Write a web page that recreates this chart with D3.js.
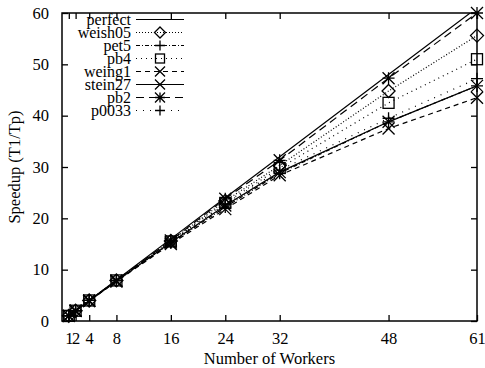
<!DOCTYPE html>
<html>
<head>
<meta charset="utf-8">
<script src="https://cdn.jsdelivr.net/npm/d3@7"></script>
<style>
body { margin: 0; background: #fff; }
svg text { font-family: "Liberation Serif", "DejaVu Serif", serif; font-size: 16.5px; fill: #000; }
svg .legend text { font-size: 16px; }
</style>
</head>
<body>
<div id="chart"></div>
<script>
var workers = [1, 2, 4, 8, 16, 24, 32, 48, 61];
var xTicks = [1, 2, 4, 8, 16, 24, 32, 48, 61];
var yTicks = [0, 10, 20, 30, 40, 50, 60];

var perfect = [1, 2, 4, 8, 16, 24, 32, 48, 61];
var weish05 = [1, 2, 4, 7.9, 15.6, 23.4, 30.3, 44.8, 55.6];
var pet5    = [1, 2, 4, 7.8, 15.2, 22.2, 28.8, 38.8, 45.8];
var pb4     = [1, 2, 4, 7.9, 15.5, 23.0, 29.8, 42.5, 51.0];
var weing1  = [1, 2, 3.9, 7.7, 15.0, 21.8, 28.4, 37.5, 43.5];
var stein27 = [1, 2, 3.9, 7.8, 15.3, 22.5, 29.0, 38.8, 45.8];
var pb2     = [1, 2, 4, 7.9, 15.7, 23.8, 31.3, 47.3, 60.0];
var p0033   = [1, 2, 4, 7.9, 15.4, 22.8, 29.4, 39.5, 47.2];

var series = [
  {name: "perfect", values: perfect, dash: null, marker: null},
  {name: "weish05", values: weish05, dash: "1,2", marker: "diamond"},
  {name: "pet5", values: pet5, dash: "4,2,1,2", marker: "plus"},
  {name: "pb4", values: pb4, dash: "1,4", marker: "square"},
  {name: "weing1", values: weing1, dash: "5,4", marker: "cross"},
  {name: "stein27", values: stein27, dash: null, marker: "cross"},
  {name: "pb2", values: pb2, dash: "8,5", marker: "star"},
  {name: "p0033", values: p0033, dash: "1,6", marker: "plus"}
];

var svgWidth = 485, svgHeight = 368;
var plotLeft = 62, plotRight = 477, plotTop = 13, plotBottom = 321;

var x = d3.scaleLinear().domain([0, 61]).range([plotLeft, plotRight]);
var y = d3.scaleLinear().domain([0, 60]).range([plotBottom, plotTop]);

var svg = d3.select("#chart").append("svg")
  .attr("width", svgWidth)
  .attr("height", svgHeight);

svg.append("clipPath").attr("id", "clip")
  .append("rect").attr("x", plotLeft).attr("y", plotTop)
  .attr("width", plotRight - plotLeft).attr("height", plotBottom - plotTop);

// axes, gnuplot style: ticks inside, mirrored
svg.append("g").attr("transform", "translate(0," + plotBottom + ")")
  .call(d3.axisBottom(x).tickValues(xTicks).tickSize(-6).tickPadding(11).tickFormat(d3.format("d")))
  .call(function(g) { g.select(".domain").remove(); });
svg.append("g").attr("transform", "translate(0," + plotTop + ")")
  .call(d3.axisTop(x).tickValues(xTicks).tickSize(-6).tickFormat(""))
  .call(function(g) { g.select(".domain").remove(); });
svg.append("g").attr("transform", "translate(" + plotLeft + ",0)")
  .call(d3.axisLeft(y).tickValues(yTicks).tickSize(-6).tickPadding(13))
  .call(function(g) { g.select(".domain").remove(); });
svg.append("g").attr("transform", "translate(" + plotRight + ",0)")
  .call(d3.axisRight(y).tickValues(yTicks).tickSize(-6).tickFormat(""))
  .call(function(g) { g.select(".domain").remove(); });

svg.selectAll(".tick line").attr("stroke", "#000").attr("stroke-width", 1.3);
svg.selectAll(".tick text").attr("font-family", null).attr("font-size", null);

svg.append("rect")
  .attr("x", plotLeft).attr("y", plotTop)
  .attr("width", plotRight - plotLeft).attr("height", plotBottom - plotTop)
  .attr("fill", "none").attr("stroke", "#000").attr("stroke-width", 1.5);

svg.append("text")
  .attr("transform", "translate(14," + ((plotTop + plotBottom) / 2) + ") rotate(-90)")
  .attr("text-anchor", "middle")
  .attr("dy", "0.35em")
  .text("Speedup (T1/Tp)");

svg.append("text")
  .attr("x", (plotLeft + plotRight) / 2)
  .attr("y", 358)
  .attr("dy", "0.35em")
  .attr("text-anchor", "middle")
  .text("Number of Workers");

function drawMarker(g, type, cx, cy, s) {
  if (type == "diamond") {
    s = s + 0.5;
    g.append("path").attr("d", "M" + cx + "," + (cy - s) + "L" + (cx + s) + "," + cy + "L" + cx + "," + (cy + s) + "L" + (cx - s) + "," + cy + "Z")
      .attr("fill", "none").attr("stroke", "#000").attr("stroke-width", 1.3);
  } else if (type == "square") {
    s = s - 0.5;
    g.append("rect").attr("x", cx - s).attr("y", cy - s).attr("width", 2 * s).attr("height", 2 * s)
      .attr("fill", "none").attr("stroke", "#000").attr("stroke-width", 1.3);
  } else {
    var d = "";
    if (type == "plus" || type == "star")
      d += "M" + (cx - s) + "," + cy + "H" + (cx + s) + "M" + cx + "," + (cy - s) + "V" + (cy + s);
    if (type == "cross" || type == "star")
      d += "M" + (cx - s) + "," + (cy - s) + "L" + (cx + s) + "," + (cy + s) + "M" + (cx - s) + "," + (cy + s) + "L" + (cx + s) + "," + (cy - s);
    g.append("path").attr("d", d).attr("fill", "none").attr("stroke", "#000").attr("stroke-width", 1.3);
  }
}

var line = d3.line()
  .x(function(d) { return x(d[0]); })
  .y(function(d) { return y(d[1]); });

var plot = svg.append("g").attr("clip-path", "url(#clip)");

series.forEach(function(s) {
  var pts = workers.map(function(w, i) { return [w, s.values[i]]; });
  plot.append("path")
    .attr("d", line(pts))
    .attr("fill", "none")
    .attr("stroke", "#000")
    .attr("stroke-width", 1.2)
    .attr("stroke-dasharray", s.dash);
});

var marks = svg.append("g");
series.forEach(function(s) {
  if (!s.marker) return;
  workers.forEach(function(w, i) {
    drawMarker(marks, s.marker, x(w), y(s.values[i]), 6);
  });
});

// legend
var legend = svg.append("g").attr("class", "legend");
series.forEach(function(s, i) {
  var ly = 19.5 + i * 13;
  legend.append("text")
    .attr("x", 131).attr("y", ly)
    .attr("dy", "0.32em")
    .attr("text-anchor", "end")
    .text(s.name);
  legend.append("line")
    .attr("x1", 136).attr("x2", 184)
    .attr("y1", ly).attr("y2", ly)
    .attr("stroke", "#000").attr("stroke-width", 1.2)
    .attr("stroke-dasharray", s.dash);
  if (s.marker) drawMarker(legend, s.marker, 160, ly, 5);
});
</script>
</body>
</html>
